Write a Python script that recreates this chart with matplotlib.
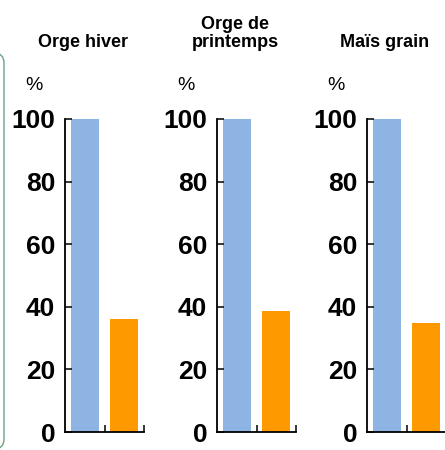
import matplotlib.pyplot as plt
from matplotlib.patches import FancyBboxPatch

# 三個作物，每個兩根柱：參考值 100% 與比較值
crops = ["Orge hiver", "Orge de\nprintemps", "Maïs grain"]
reference = [100, 100, 100]
compared = [36, 38.5, 34.7]
yticks = [0, 20, 40, 60, 80, 100]

BLUE = "#8DB4E2"
ORANGE = "#FF9900"

plt.rcParams["font.family"] = ["Liberation Sans", "DejaVu Sans"]

W, H = 445, 450
fig = plt.figure(figsize=(W / 100, H / 100), dpi=100)

lefts = [65, 217, 367]
for left, name, ref, cmp_ in zip(lefts, crops, reference, compared):
    ax = fig.add_axes([left / W, 18 / H, 79 / W, 313 / H])
    ax.bar([0, 1], [ref, cmp_], width=0.71, color=[BLUE, ORANGE])
    ax.set_xlim(-0.5, 1.5)
    ax.set_ylim(0, 100)
    ax.set_yticks(yticks)
    ax.set_yticklabels([str(v) for v in yticks], fontsize=19, fontweight="bold")
    ax.tick_params(axis="y", direction="in", length=5, width=1.1, pad=7)
    ax.set_xticks([0.5, 1.5])
    ax.set_xticklabels([])
    ax.tick_params(axis="x", direction="in", length=5, width=1.1)
    for s in ("top", "right"):
        ax.spines[s].set_visible(False)
    for s in ("left", "bottom"):
        ax.spines[s].set_linewidth(1.3)
    ax.spines["left"].set_zorder(3)

    # 標題（底部對齊）與 % 單位
    fig.text((left + 18) / W, 1 - 51 / H, name, ha="center", va="bottom",
             fontsize=13, fontweight="bold", linespacing=1.05)
    fig.text((left - 31) / W, 1 - 86 / H, "%", ha="center", va="center",
             fontsize=14)

# 左邊被切掉一半的綠色圓角框，用像素座標的覆蓋層來畫
over = fig.add_axes([0, 0, 1, 1], zorder=-1)
over.set_xlim(0, W)
over.set_ylim(H, 0)
over.axis("off")
over.add_patch(FancyBboxPatch((-100, 53), 104, 396,
                              boxstyle="round,pad=0,rounding_size=10",
                              fill=False, edgecolor="#6AA283", linewidth=1.0))

fig.savefig("out.png", dpi=100)
